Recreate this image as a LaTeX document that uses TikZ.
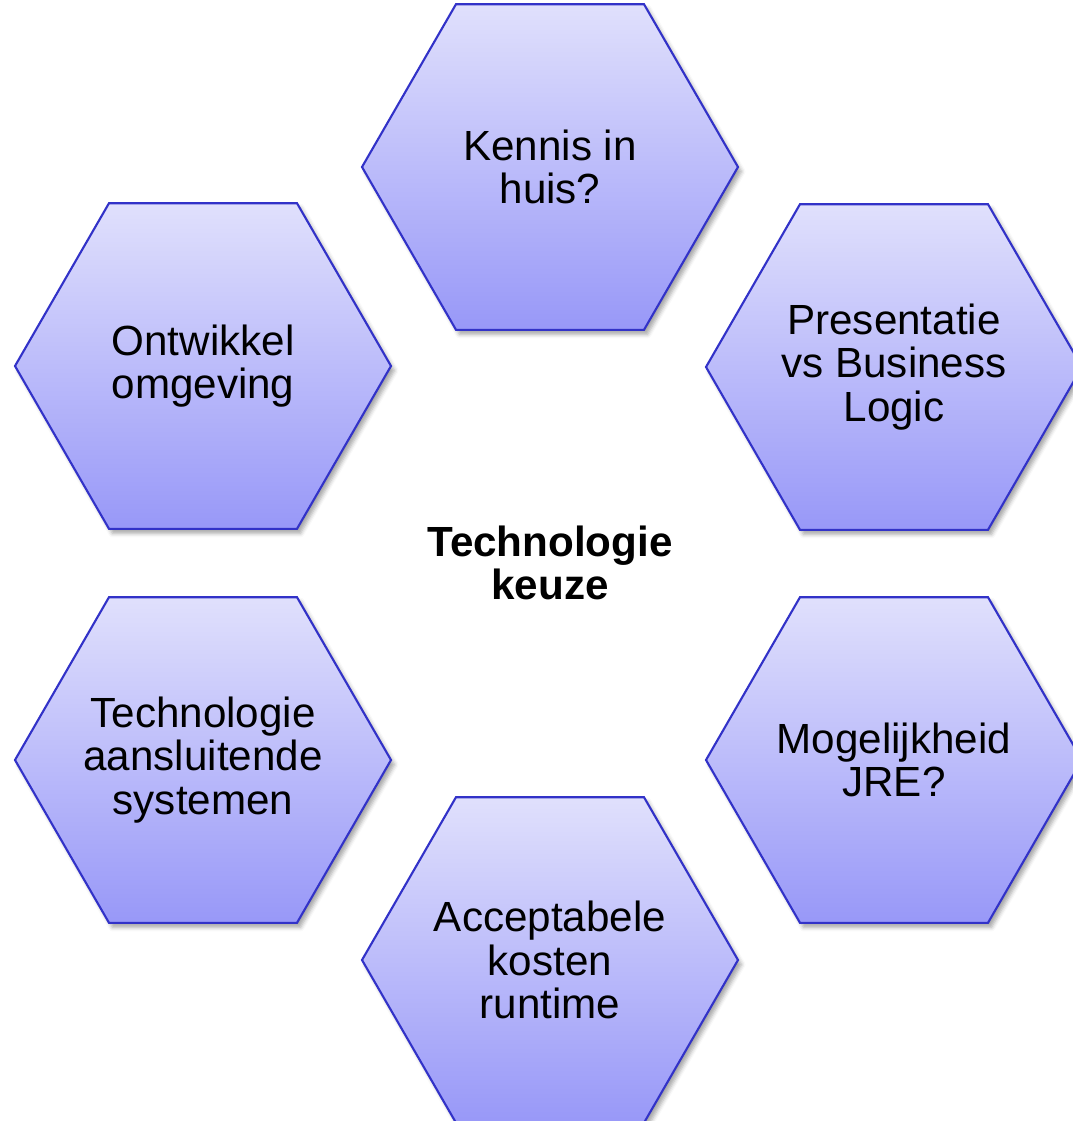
\documentclass[tikz,border=0pt]{standalone}
\usepackage{fontspec}
\setmainfont{Liberation Sans}
\usepackage{xcolor}
\usetikzlibrary{shapes.geometric,shadows.blur}
\definecolor{hexline}{RGB}{50,50,200}
\definecolor{hextop}{RGB}{224,224,252}
\definecolor{hexbottom}{RGB}{152,152,248}
\tikzset{
  hexagon/.style={regular polygon,regular polygon sides=6,draw=hexline,line width=0.6pt,
    top color=hextop,bottom color=hexbottom,minimum size=37.6mm,inner sep=0pt,
    blur shadow={shadow xshift=0.35mm,shadow yshift=-0.45mm,shadow blur radius=0.4mm,shadow opacity=35}
  },
  hextext/.style={align=center,inner sep=0pt,font=\fontsize{12pt}{12.4pt}\selectfont},
  keuze/.style={hextext,font=\fontsize{12pt}{12.4pt}\selectfont\bfseries}
}
\begin{document}
\begin{tikzpicture}[x=0.1mm,y=-0.1mm]
  \useasboundingbox (0,0) rectangle (1073,1121);

  \node[hexagon] (kennis) at (550,167) {};
  \node[hexagon] (ontwikkel) at (203,366) {};
  \node[hexagon] (presentatie) at (894,367) {};
  \node[hexagon] (aansluitend) at (203,760) {};
  \node[hexagon] (jre) at (894,760) {};
  \node[hexagon] (kosten) at (550,960) {};

  \node[hextext] (kennis-t) at (kennis) {Kennis in\\huis?};
  \node[hextext] (ontwikkel-t) at (ontwikkel) {Ontwikkel\\omgeving};
  \node[hextext] (presentatie-t) at (presentatie) {Presentatie\\vs Business\\Logic};
  \node[hextext] (aansluitend-t) at (aansluitend) {Technologie\\aansluitende\\systemen};
  \node[hextext] (jre-t) at (jre) {Mogelijkheid\\JRE?};
  \node[hextext] (kosten-t) at (kosten) {Acceptabele\\kosten\\runtime};

  \node[keuze] (center) at (550,563) {Technologie\\keuze};
\end{tikzpicture}
\end{document}
